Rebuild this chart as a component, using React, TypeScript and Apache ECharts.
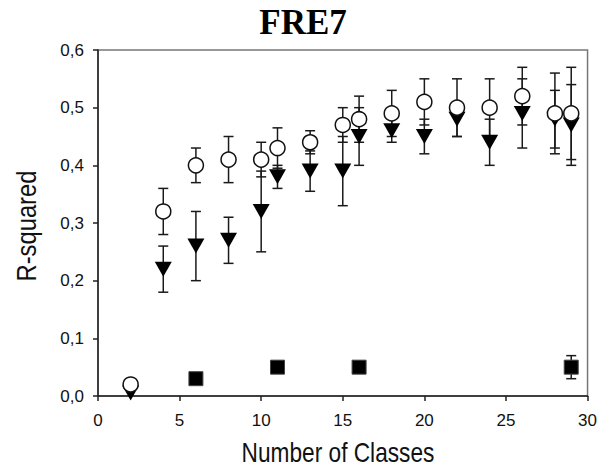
import React, { useEffect, useRef } from "react";
import * as echarts from "echarts";

// Open circles: [x, y, error]
const circleData: number[][] = [
  [2, 0.02, 0], [4, 0.32, 0.04], [6, 0.40, 0.03], [8, 0.41, 0.04], [10, 0.41, 0.03],
  [11, 0.43, 0.035], [13, 0.44, 0.02], [15, 0.47, 0.03], [16, 0.48, 0.04], [18, 0.49, 0.04],
  [20, 0.51, 0.04], [22, 0.50, 0.05], [24, 0.50, 0.05], [26, 0.52, 0.05], [28, 0.49, 0.07],
  [29, 0.49, 0.08],
];
// Filled down triangles: [x, y, error]
const triangleData: number[][] = [
  [2, 0.005, 0], [4, 0.22, 0.04], [6, 0.26, 0.06], [8, 0.27, 0.04], [10, 0.32, 0.07],
  [11, 0.38, 0.02], [13, 0.39, 0.035], [15, 0.39, 0.06], [16, 0.45, 0.05], [18, 0.46, 0.02],
  [20, 0.45, 0.03], [22, 0.48, 0.03], [24, 0.44, 0.04], [26, 0.49, 0.06], [28, 0.48, 0.05],
  [29, 0.47, 0.07],
];
// Filled squares: [x, y, error]
const squareData: number[][] = [
  [6, 0.03, 0], [11, 0.05, 0], [16, 0.05, 0], [29, 0.05, 0.02],
];

const xTicks = { min: 0, max: 30, interval: 5 };
const yTicks = { min: 0, max: 0.6, interval: 0.1 };
const titleText = "FRE7";
const xTitle = "Number of Classes";
const yTitle = "R-squared";

const SANS = "'Liberation Sans', Arial, sans-serif";

const errorBars = (data: number[][], z: number) => ({
  type: "custom",
  z,
  silent: true,
  encode: { x: 0, y: 1 },
  data: data.filter((d) => d[2] > 0),
  renderItem: (_params: any, api: any) => {
    const x = api.value(0);
    const y = api.value(1);
    const e = api.value(2);
    const top = api.coord([x, y + e]);
    const bot = api.coord([x, y - e]);
    const hw = 5;
    const style = { stroke: "#1a1a1a", lineWidth: 1.5 };
    return {
      type: "group",
      children: [
        { type: "line", shape: { x1: top[0], y1: top[1], x2: bot[0], y2: bot[1] }, style },
        { type: "line", shape: { x1: top[0] - hw, y1: top[1], x2: top[0] + hw, y2: top[1] }, style },
        { type: "line", shape: { x1: bot[0] - hw, y1: bot[1], x2: bot[0] + hw, y2: bot[1] }, style },
      ],
    };
  },
});

export default function App() {
  const ref = useRef<HTMLDivElement>(null);
  useEffect(() => {
    if (!ref.current) return;
    const chart = echarts.init(ref.current, undefined, { renderer: "svg" });
    chart.setOption({
      animation: false,
      backgroundColor: "#ffffff",
      title: {
        text: titleText,
        left: 298,
        textAlign: "center",
        top: 0,
        textStyle: { fontFamily: "Liberation Serif", fontWeight: "bold", fontSize: 35, color: "#000" },
      },
      graphic: [
        {
          type: "text",
          x: 338,
          y: 452,
          scaleX: 0.84,
          style: {
            text: xTitle,
            font: "27px 'Liberation Sans', Arial, sans-serif",
            fill: "#111",
            textAlign: "center",
            textVerticalAlign: "middle",
          },
        },
        {
          type: "text",
          x: 26,
          y: 226,
          rotation: Math.PI / 2,
          scaleX: 0.88,
          style: {
            text: yTitle,
            font: "27px 'Liberation Sans', Arial, sans-serif",
            fill: "#111",
            textAlign: "center",
            textVerticalAlign: "middle",
          },
        },
      ],
      grid: {
        left: 98,
        right: 9,
        top: 50,
        bottom: 71,
        show: true,
        borderColor: "#777",
        borderWidth: 1.5,
      },
      xAxis: {
        type: "value",
        ...xTicks,
        axisLine: { show: true, onZero: false, lineStyle: { color: "#222", width: 1.5 } },
        axisTick: { show: true, inside: false, length: 5, lineStyle: { color: "#222", width: 1.5 } },
        axisLabel: { fontFamily: SANS, fontSize: 17, color: "#111", margin: 16 },
        splitLine: { show: false },
      },
      yAxis: {
        type: "value",
        ...yTicks,
        axisLine: { show: true, onZero: false, lineStyle: { color: "#222", width: 1.5 } },
        axisTick: { show: true, inside: false, length: 5, lineStyle: { color: "#222", width: 1.5 } },
        axisLabel: {
          fontFamily: SANS,
          fontSize: 17,
          color: "#111",
          margin: 14,
          formatter: (v: number) => v.toFixed(1).replace(".", ","),
        },
        splitLine: { show: false },
      },
      series: [
        errorBars(triangleData, 1),
        errorBars(circleData, 1),
        errorBars(squareData, 1),
        {
          type: "scatter",
          z: 3,
          data: triangleData.map((d) => [d[0], d[1]]),
          symbol: "triangle",
          symbolRotate: 180,
          symbolSize: [17, 15],
          itemStyle: { color: "#000", opacity: 1 },
        },
        {
          type: "scatter",
          z: 4,
          data: circleData.map((d) => [d[0], d[1]]),
          symbol: "circle",
          symbolSize: 15,
          itemStyle: { color: "#fff", borderColor: "#111", borderWidth: 1.5, opacity: 1 },
        },
        {
          type: "scatter",
          z: 4,
          data: squareData.map((d) => [d[0], d[1]]),
          symbol: "rect",
          symbolSize: 14,
          itemStyle: { color: "#000", borderColor: "#444", borderWidth: 1, opacity: 1 },
        },
      ],
    });
    return () => chart.dispose();
  }, []);
  return <div ref={ref} style={{ width: 600, height: 467, position: "absolute", left: 0, top: 0 }} />;
}
